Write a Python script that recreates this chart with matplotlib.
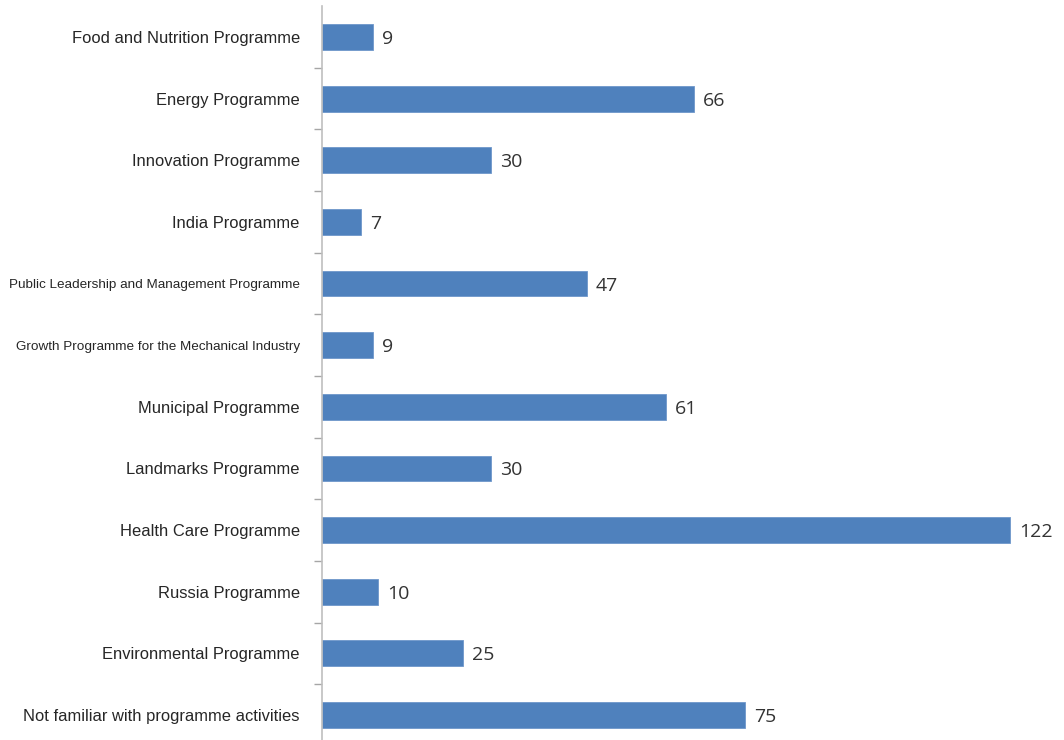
import matplotlib
matplotlib.use("Agg")
import matplotlib.pyplot as plt
import numpy as np

categories = [
    "Food and Nutrition Programme",
    "Energy Programme",
    "Innovation Programme",
    "India Programme",
    "Public Leadership and Management Programme",
    "Growth Programme for the Mechanical Industry",
    "Municipal Programme",
    "Landmarks Programme",
    "Health Care Programme",
    "Russia Programme",
    "Environmental Programme",
    "Not familiar with programme activities",
]
values = [9, 66, 30, 7, 47, 9, 61, 30, 122, 10, 25, 75]
small_labels = {"Public Leadership and Management Programme",
                "Growth Programme for the Mechanical Industry"}

fig = plt.figure(figsize=(10.64, 7.40), dpi=100)
ax = fig.add_axes([322 / 1064, -5.8 / 740, 1 - 322 / 1064, 739.6 / 740])

n = len(categories)
y = np.arange(n)
ax.barh(y, values, height=0.42, color="#4F81BD", edgecolor="#6E97CB", linewidth=0.6, zorder=2)

ax.set_xlim(0, (1064 - 322) / 5.64)
ax.set_ylim(n - 0.5, -0.5)

for s in ["top", "right", "bottom"]:
    ax.spines[s].set_visible(False)
ax.spines["left"].set_color("#BFBFBF")
ax.spines["left"].set_linewidth(1.2)
ax.set_xticks([])

ax.set_yticks(y)
ax.set_yticklabels(categories)
ax.tick_params(axis="y", which="major", length=0, pad=16)
ax.set_yticks(np.arange(n - 1) + 0.5, minor=True)
ax.tick_params(axis="y", which="minor", length=6, color="#A6A6A6", width=1)

for lbl in ax.get_yticklabels():
    lbl.set_fontfamily("Liberation Sans")
    lbl.set_color("#262626")
    if lbl.get_text() in small_labels:
        lbl.set_fontsize(9.7)
    else:
        lbl.set_fontsize(11.85)

for yi, v in zip(y, values):
    ax.text(v + 1.6, yi, str(v), va="center_baseline", ha="left", fontsize=14,
            family="Open Sans", color="#333333")

fig.savefig("out.png", dpi=100)
